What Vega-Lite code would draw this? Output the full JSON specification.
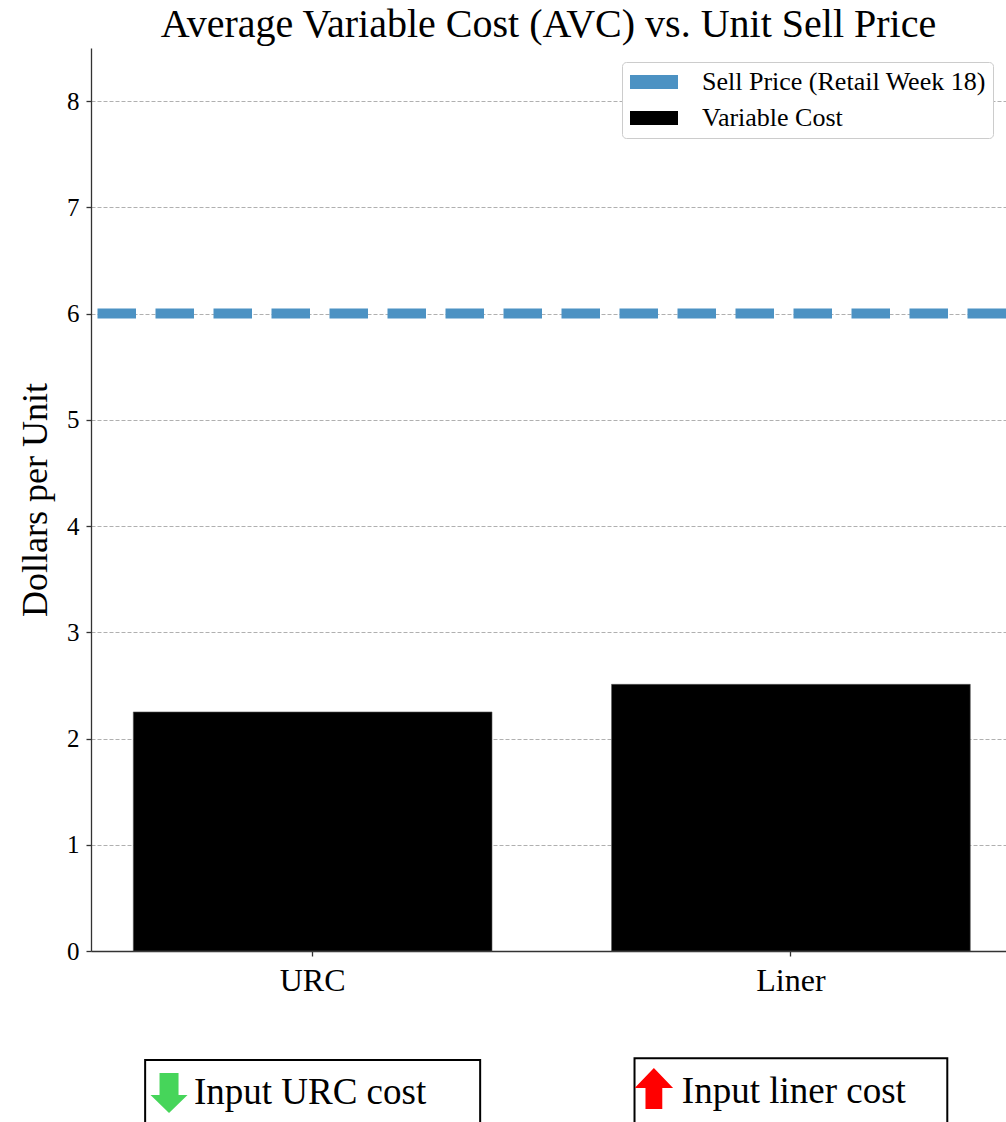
{
  "$schema": "https://vega.github.io/schema/vega-lite/v6.json",
  "autosize": {"type": "none"},
  "padding": {"left": 91, "top": 48, "right": 0, "bottom": 171},
  "width": 915,
  "height": 903,
  "config": {
    "font": "Liberation Serif",
    "view": {"stroke": null},
    "background": "white"
  },
  "title": {
    "text": "Average Variable Cost (AVC) vs. Unit Sell Price",
    "fontSize": 40,
    "fontWeight": "normal",
    "color": "black",
    "anchor": "middle",
    "baseline": "alphabetic",
    "offset": 11,
    "dy": 40
  },
  "datasets": {
    "costs": [
      {"cat": "URC", "cost": 2.25},
      {"cat": "Liner", "cost": 2.51}
    ],
    "price": [
      {"price": 6}
    ],
    "inputs": [
      {"cat": "URC", "label": "Input URC cost", "direction": "down"},
      {"cat": "Liner", "label": "Input liner cost", "direction": "up"}
    ]
  },
  "layer": [
    {
      "data": {"name": "costs"},
      "mark": {"type": "bar", "stroke": "#555555", "strokeWidth": 0.6},
      "encoding": {
        "x": {
          "field": "cat", "type": "nominal",
          "scale": {"domain": ["URC", "Liner"], "paddingInner": 0.25, "paddingOuter": 0.0816, "align": 0.542},
          "axis": {
            "title": null, "labelAngle": 0, "labelFontSize": 32, "labelColor": "black",
            "labelPadding": 9, "tickSize": 5, "tickColor": "#333333", "tickWidth": 1.3,
            "domainColor": "#333333", "domainWidth": 1.3, "grid": false
          }
        },
        "y": {
          "field": "cost", "type": "quantitative",
          "scale": {"domain": [0, 8.5], "nice": false},
          "axis": {
            "values": [0, 1, 2, 3, 4, 5, 6, 7, 8], "format": "d",
            "title": "Dollars per Unit", "titleFontSize": 36, "titleFontWeight": "normal",
            "titleColor": "black", "titlePadding": 12,
            "labelFontSize": 25, "labelColor": "black", "labelPadding": 7,
            "tickSize": 5, "tickColor": "#333333", "tickWidth": 1.3,
            "domainColor": "#333333", "domainWidth": 1.3,
            "grid": true, "gridColor": "#b0b0b0", "gridDash": [4, 2], "gridWidth": 1
          }
        },
        "color": {
          "datum": "Variable Cost",
          "scale": {
            "domain": ["Sell Price (Retail Week 18)", "Variable Cost"],
            "range": ["#4c92c3", "#000000"]
          },
          "legend": {
            "orient": "none", "legendX": 531, "legendY": 14, "title": null,
            "padding": 7, "fillColor": "white", "strokeColor": "#cccccc", "cornerRadius": 4,
            "labelFontSize": 26, "labelColor": "black", "labelOffset": 47, "labelLimit": 400,
            "rowPadding": 10, "symbolSize": 576, "symbolStrokeWidth": 0, "symbolOpacity": 1,
            "symbolType": "M-1,-0.58L3,-0.58L3,0.58L-1,0.58Z",
            "encode": {
              "symbols": {
                "shape": {"value": {"expr": "datum.value === 'Variable Cost' ? 'M-1,-0.76L3.167,-0.76L3.167,0.76L-1,0.76Z' : 'M-1,-0.375L2.333,-0.375L2.333,0.375L-1,0.375Z'"}}
              }
            }
          }
        }
      }
    },
    {
      "data": {"name": "price"},
      "mark": {"type": "rule", "strokeWidth": 10, "strokeDash": [38.5, 19.5]},
      "encoding": {
        "y": {"field": "price", "type": "quantitative"},
        "color": {"datum": "Sell Price (Retail Week 18)"}
      }
    },
    {
      "data": {"name": "inputs"},
      "transform": [{"filter": "datum.cat === 'URC'"}],
      "layer": [
        {
          "mark": {"type": "bar", "fill": "white", "stroke": "black", "strokeWidth": 2, "width": {"band": 0.934}},
          "encoding": {
            "x": {"field": "cat", "type": "nominal"},
            "y": {"datum": -1.026},
            "y2": {"datum": -2}
          }
        },
        {
          "mark": {"type": "point", "shape": "M-0.475,-1L0.475,-1L0.475,0.1L0.925,0.1L0,1L-0.925,0.1L-0.475,0.1Z", "filled": true, "fill": "#46d55a", "opacity": 1, "size": 1600, "strokeWidth": 0},
          "encoding": {
            "x": {"field": "cat", "type": "nominal", "bandPosition": 0.0996},
            "y": {"datum": -1.336}
          }
        },
        {
          "mark": {"type": "text", "align": "left", "baseline": "alphabetic", "fontSize": 37, "color": "black"},
          "encoding": {
            "x": {"field": "cat", "type": "nominal", "bandPosition": 0.169},
            "y": {"datum": -1.443},
            "text": {"field": "label"}
          }
        }
      ]
    },
    {
      "data": {"name": "inputs"},
      "transform": [{"filter": "datum.cat === 'Liner'"}],
      "layer": [
        {
          "mark": {"type": "bar", "fill": "white", "stroke": "black", "strokeWidth": 2, "width": {"band": 0.872}},
          "encoding": {
            "x": {"field": "cat", "type": "nominal"},
            "y": {"datum": -1.01},
            "y2": {"datum": -2}
          }
        },
        {
          "mark": {"type": "point", "shape": "M-0.42,1.025L0.42,1.025L0.42,-0.02L0.96,-0.02L0,-1.025L-0.96,-0.02L-0.42,-0.02Z", "filled": true, "fill": "#ff0000", "opacity": 1, "size": 1600, "strokeWidth": 0},
          "encoding": {
            "x": {"field": "cat", "type": "nominal", "bandPosition": 0.118},
            "y": {"datum": -1.294}
          }
        },
        {
          "mark": {"type": "text", "align": "left", "baseline": "alphabetic", "fontSize": 37, "color": "black"},
          "encoding": {
            "x": {"field": "cat", "type": "nominal", "bandPosition": 0.196},
            "y": {"datum": -1.433},
            "text": {"field": "label"}
          }
        }
      ]
    }
  ]
}
